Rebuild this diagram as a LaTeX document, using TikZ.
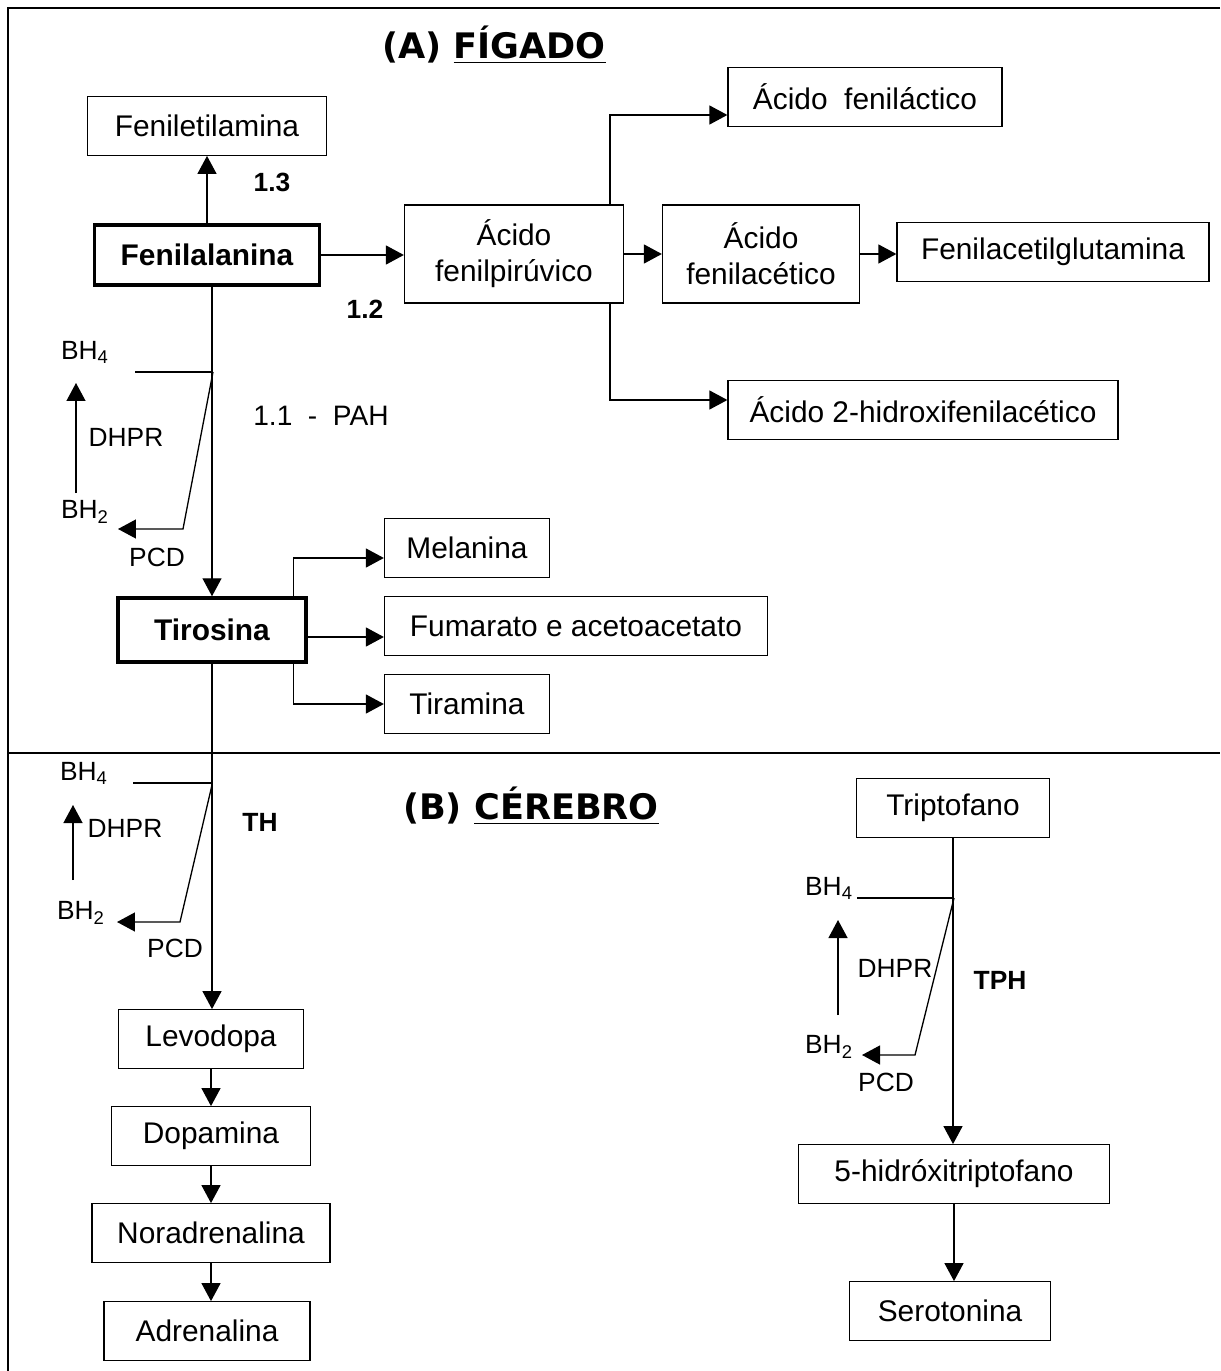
\documentclass[tikz,border=0pt]{standalone}
\usepackage{fontspec}
\setmainfont{Liberation Sans}
\newfontfamily\headfont{DejaVu Sans}
\usetikzlibrary{arrows.meta,calc}

\begin{document}
\begin{tikzpicture}[
  x=0.02cm, y=-0.02cm,
  every node/.style={inner sep=1pt},
  box/.style={draw, line width=0.75pt, inner sep=0pt, align=center,
    minimum height=1.17cm, font=\fontsize{17}{20.5}\selectfont},
  mainbox/.style={box, line width=2pt, font=\fontsize{17}{20.5}\selectfont\bfseries},
  lbl/.style={inner sep=0pt, font=\fontsize{15}{18}\selectfont},
  enz/.style={inner sep=0pt, font=\fontsize{15}{18}\selectfont\bfseries},
  heading/.style={inner sep=0pt, font=\headfont\bfseries\fontsize{20}{24}\selectfont},
  % the two line kinds: plain strokes and strokes ending in a solid head
  plain/.style={draw, line width=0.75pt},
  arrow/.style={draw, line width=0.75pt, -{Triangle[length=0.36cm, width=0.38cm]}}]

  \useasboundingbox (0,0) rectangle (1220,1371);

  % frame and the line between the two organs
  \draw[plain] (1220,8) -- (8,8) -- (8,1371);
  \draw[plain] (8,753) -- (1220,753);

  % headings
  \node[heading] (hA) at (494,45)  {(A) \underline{FÍGADO}};
  \node[heading] (hB) at (531,806) {(B) \underline{CÉREBRO}};

  % vertices, liver
  \node[box, minimum width=4.78cm] (fet)  at (207,126)  {Feniletilamina};
  \node[mainbox, minimum width=4.5cm, minimum height=1.2cm] (fal) at (207,255) {Fenilalanina};
  \node[box, minimum width=4.38cm, minimum height=1.96cm] (fpir) at (514,254) {Ácido\\fenilpirúvico};
  \node[box, minimum width=5.48cm] (flac) at (865,97)   {Ácido\ \ feniláctico};
  \node[box, minimum width=3.94cm, minimum height=1.96cm] (face) at (761,254) {Ácido\\fenilacético};
  \node[box, minimum width=6.24cm] (fglu) at (1053,252) {Fenilacetilglutamina};
  \node[box, minimum width=7.8cm]  (fhid) at (923,410)  {Ácido 2-hidroxifenilacético};
  \node[mainbox, minimum width=3.76cm, minimum height=1.28cm] (tir) at (212,630) {Tirosina};
  \node[box, minimum width=3.3cm]  (mel)  at (467,548)  {Melanina};
  \node[box, minimum width=7.66cm] (fum)  at (576,626)  {Fumarato e acetoacetato};
  \node[box, minimum width=3.3cm]  (tira) at (467,704)  {Tiramina};

  % vertices, brain
  \node[box, minimum width=3.7cm]  (levo) at (211,1039) {Levodopa};
  \node[box, minimum width=3.98cm] (dopa) at (211,1136) {Dopamina};
  \node[box, minimum width=4.76cm] (nora) at (211,1233) {Noradrenalina};
  \node[box, minimum width=4.12cm] (adre) at (207,1331) {Adrenalina};
  \node[box, minimum width=3.86cm] (trp)  at (953,808)  {Triptofano};
  \node[box, minimum width=6.22cm] (htp)  at (954,1174) {5-hidróxitriptofano};
  \node[box, minimum width=4.02cm] (sero) at (950,1311) {Serotonina};

  % arrows, liver
  \draw[arrow] (fal.north) -- (fet.south);
  \draw[arrow] (fal.east) -- (fal.east -| fpir.west);
  \draw[arrow] (fpir.east) -- (face.west);
  \draw[arrow] (face.east) -- (face.east -| fglu.west);
  \draw[arrow] ($(fpir.north east)+(-14,0)$) |- ($(flac.west)+(0,18)$);
  \draw[arrow] ($(fpir.south east)+(-14,0)$) |- ($(fhid.west)+(0,-10)$);
  \draw[arrow] (tir.north |- fal.south) -- (tir.north);
  \draw[arrow] ($(tir.north east)+(-14,0)$) |- ($(mel.west)+(0,10)$);
  \draw[arrow] ($(tir.east)+(0,7)$) -- ($(fum.west)+(0,11)$);
  \draw[arrow] ($(tir.south east)+(-14,0)$) |- (tira.west);

  % arrows, brain
  \draw[arrow] (tir.south) -- (tir.south |- levo.north);
  \draw[arrow] (levo.south) -- (dopa.north);
  \draw[arrow] (dopa.south) -- (nora.north);
  \draw[arrow] (nora.south) -- (nora.south |- adre.north);
  \draw[arrow] (trp.south) -- (trp.south |- htp.north);
  \draw[arrow] (htp.south) -- (htp.south |- sero.north);

  % labels printed inside the picture
  \node[enz] (e13) at (272,182) {1.3};
  \node[enz] (e12) at (365,309) {1.2};
  \node[lbl, font=\fontsize{16}{19}\selectfont] (pah) at (321,416) {1.1\ \ -\ \ PAH};
  \node[enz] (th)  at (260,822)  {TH};
  \node[enz] (tph) at (1000,980) {TPH};

  % cofactor cycle beside PAH
  \node[lbl] (bh4a)  at (85,352)  {BH\textsubscript{4}};
  \node[lbl] (bh2a)  at (85,512)  {BH\textsubscript{2}};
  \node[lbl] (dhpra) at (126,437) {DHPR};
  \node[lbl] (pcda)  at (157,557) {PCD};
  \coordinate (a1) at (135,372);
  \coordinate (a2) at (213,372);
  \coordinate (a3) at (183,529);
  \coordinate (a4) at (118,529);
  \draw[plain] (a1) -- (a2);
  \draw[arrow] (a2) -- (a3) -- (a4);
  \draw[arrow] (76,493) -- (76,383);

  % cofactor cycle beside TH
  \node[lbl] (bh4b)  at (84,773)  {BH\textsubscript{4}};
  \node[lbl] (bh2b)  at (81,913)  {BH\textsubscript{2}};
  \node[lbl] (dhprb) at (125,828) {DHPR};
  \node[lbl] (pcdb)  at (175,948) {PCD};
  \coordinate (b1) at (133,783);
  \coordinate (b2) at (212,785);
  \coordinate (b3) at (180,922);
  \coordinate (b4) at (117,922);
  \draw[plain] (b1) -- (b1 -| b2);
  \draw[arrow] (b2) -- (b3) -- (b4);
  \draw[arrow] (73,880) -- (73,805);

  % cofactor cycle beside TPH
  \node[lbl] (bh4c)  at (829,888)  {BH\textsubscript{4}};
  \node[lbl] (bh2c)  at (829,1047) {BH\textsubscript{2}};
  \node[lbl] (dhprc) at (895,968)  {DHPR};
  \node[lbl] (pcdc)  at (886,1082) {PCD};
  \coordinate (c1) at (857,898);
  \coordinate (c2) at (954,898);
  \coordinate (c3) at (915,1055);
  \coordinate (c4) at (862,1055);
  \draw[plain] (c1) -- (c2);
  \draw[arrow] (c2) -- (c3) -- (c4);
  \draw[arrow] (838,1015) -- (838,920);
\end{tikzpicture}
\end{document}
